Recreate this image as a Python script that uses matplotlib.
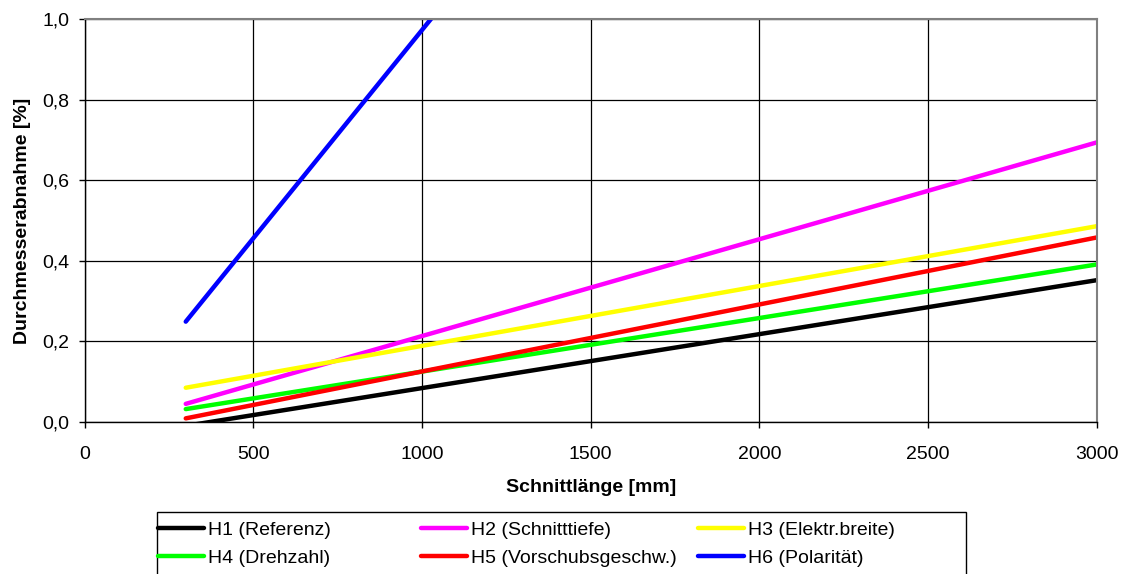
import numpy as np
import matplotlib
matplotlib.use('Agg')
import matplotlib.pyplot as plt
from matplotlib.patches import Rectangle
from matplotlib.ticker import FuncFormatter

plt.rcParams['font.family'] = ['Liberation Sans', 'DejaVu Sans']

# Schnittlänge [mm], Endpunkte der Ausgleichsgeraden
x_mm = [300, 3000]
h1 = [-0.0096, 0.352]
h2 = [0.045, 0.694]
h3 = [0.085, 0.486]
h4 = [0.032, 0.391]
h5 = [0.009, 0.458]
h6 = [0.249, 3.04]

series = [
    ('H1 (Referenz)', h1, '#000000'),
    ('H2 (Schnitttiefe)', h2, '#FF00FF'),
    ('H3 (Elektr.breite)', h3, '#FFFF00'),
    ('H4 (Drehzahl)', h4, '#00FF00'),
    ('H5 (Vorschubsgeschw.)', h5, '#FF0000'),
    ('H6 (Polarität)', h6, '#0000FF'),
]

W, H = 1121, 574
fs = 14

fig = plt.figure(figsize=(W / 100, H / 100), dpi=100)
ax = fig.add_axes([84.5 / W, 1 - 422 / H, (1097 - 84.5) / W, (422 - 19) / H])

for name, ys, col in series:
    ax.plot(x_mm, ys, color=col, lw=3.2, label=name, solid_capstyle='round')

ax.set_xlim(0, 3000)
ax.set_ylim(0, 1.0)
ax.set_xticks(np.arange(0, 3001, 500))
ax.set_yticks(np.arange(0, 1.01, 0.2))
ax.yaxis.set_major_formatter(FuncFormatter(lambda v, p: ('%.1f' % v).replace('.', ',')))
ax.grid(True, color='black', lw=0.9)
ax.set_axisbelow(True)
ax.tick_params(direction='out', length=4.5, width=1, labelsize=fs, colors='black')
ax.tick_params(axis='x', pad=12.5)
ax.tick_params(axis='y', pad=6.5)
for s in ['top', 'right']:
    ax.spines[s].set_color('#808080')
    ax.spines[s].set_linewidth(1.5)
for s in ['left', 'bottom']:
    ax.spines[s].set_color('black')
    ax.spines[s].set_linewidth(1.0)

ax.set_xlabel('Schnittlänge [mm]', fontsize=fs, fontweight='bold', labelpad=12)
ax.set_ylabel('Durchmesserabnahme [%]', fontsize=fs, fontweight='bold', labelpad=8)

# Legende: drei Spalten mit gleichem Abstand (Excel-Stil), zeilenweise
handles, labels = ax.get_legend_handles_labels()
col_x = [158, 421, 698]
for c in range(3):
    idx = [c, c + 3]
    fig.legend([handles[i] for i in idx], [labels[i] for i in idx],
               loc='center left', bbox_to_anchor=(col_x[c] / W, 1 - 544 / H),
               frameon=False, fontsize=fs, handlelength=2.35, handletextpad=0.2,
               borderpad=0, borderaxespad=0, labelspacing=0.56)

fig.patches.append(Rectangle((157 / W, -0.05), (966 - 157) / W, 0.05 + 1 - 512 / H,
                             transform=fig.transFigure, fill=False,
                             edgecolor='black', lw=1.0))

fig.savefig('out.png', dpi=100)
